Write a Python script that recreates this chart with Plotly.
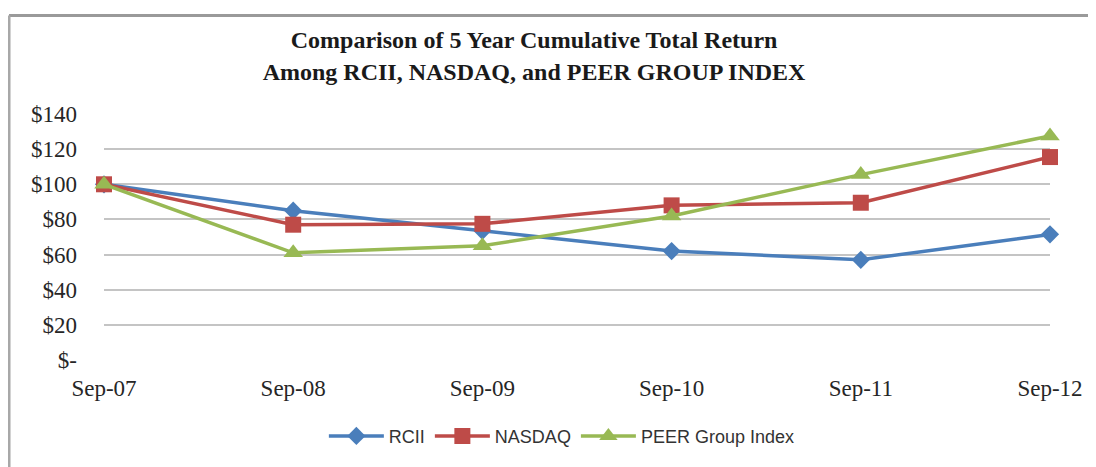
import plotly.graph_objects as go

categories = ["Sep-07", "Sep-08", "Sep-09", "Sep-10", "Sep-11", "Sep-12"]
rcii = [100, 85, 73.5, 62, 57, 71.5]
nasdaq = [100, 77, 77.5, 88, 89.5, 115.5]
peer = [100, 61, 65, 82, 105.5, 127.5]
y_ticks = [0, 20, 40, 60, 80, 100, 120, 140]
y_tick_labels = ["$-", "$20", "$40", "$60", "$80", "$100", "$120", "$140"]

fig = go.Figure()
fig.add_trace(go.Scatter(x=categories, y=rcii, name="RCII", mode="lines+markers",
                         line=dict(color="#4a7ebb", width=3.5),
                         marker=dict(symbol="diamond", size=14, color="#4a7ebb"),
                         cliponaxis=False))
fig.add_trace(go.Scatter(x=categories, y=nasdaq, name="NASDAQ", mode="lines+markers",
                         line=dict(color="#be4b48", width=3.5),
                         marker=dict(symbol="square", size=16, color="#be4b48"),
                         cliponaxis=False))
fig.add_trace(go.Scatter(x=categories, y=peer, name="PEER Group Index", mode="lines+markers",
                         line=dict(color="#98b954", width=3.5),
                         marker=dict(symbol="triangle-up", size=17, color="#98b954"),
                         cliponaxis=False))

fig.update_layout(
    width=1088, height=459,
    margin=dict(l=96, r=46, t=106, b=99),
    paper_bgcolor="white", plot_bgcolor="white",
    title=dict(text="<b>Comparison of 5 Year Cumulative Total Return<br>Among RCII, NASDAQ, and PEER GROUP INDEX</b>",
               x=0.4835, xanchor="center", y=0.912, yanchor="top",
               font=dict(family="Liberation Serif", size=24, color="#1a1a1a")),
    showlegend=True,
    legend=dict(orientation="h", x=0.484, xanchor="center", y=-0.31, yanchor="middle",
                font=dict(family="Liberation Sans", size=18, color="#333333"),
                itemwidth=55, traceorder="normal"),
    xaxis=dict(type="category", range=[0, 5], showgrid=False, zeroline=False, showline=False,
               tickfont=dict(family="Liberation Serif", size=23, color="#262626"),
               ticks="", ticklabelstandoff=12),
    yaxis=dict(range=[0, 140], tickvals=y_ticks, ticktext=y_tick_labels,
               showgrid=True, gridcolor="#c4c4c4", gridwidth=2, zeroline=False, showline=False,
               tickfont=dict(family="Liberation Serif", size=23, color="#262626"),
               ticks="", ticklabelstandoff=26),
    hovermode=False,
)

# outer chart border (top and left edges visible)
fig.add_shape(type="line", xref="paper", yref="paper", x0=-0.1004, x1=1.06, y0=1.40, y1=1.40,
              line=dict(color="#9a9a9a", width=3))
fig.add_shape(type="line", xref="paper", yref="paper", x0=-0.1004, x1=-0.1004, y0=1.40, y1=-0.45,
              line=dict(color="#a8a8a8", width=3))

fig.write_html("out.html")
